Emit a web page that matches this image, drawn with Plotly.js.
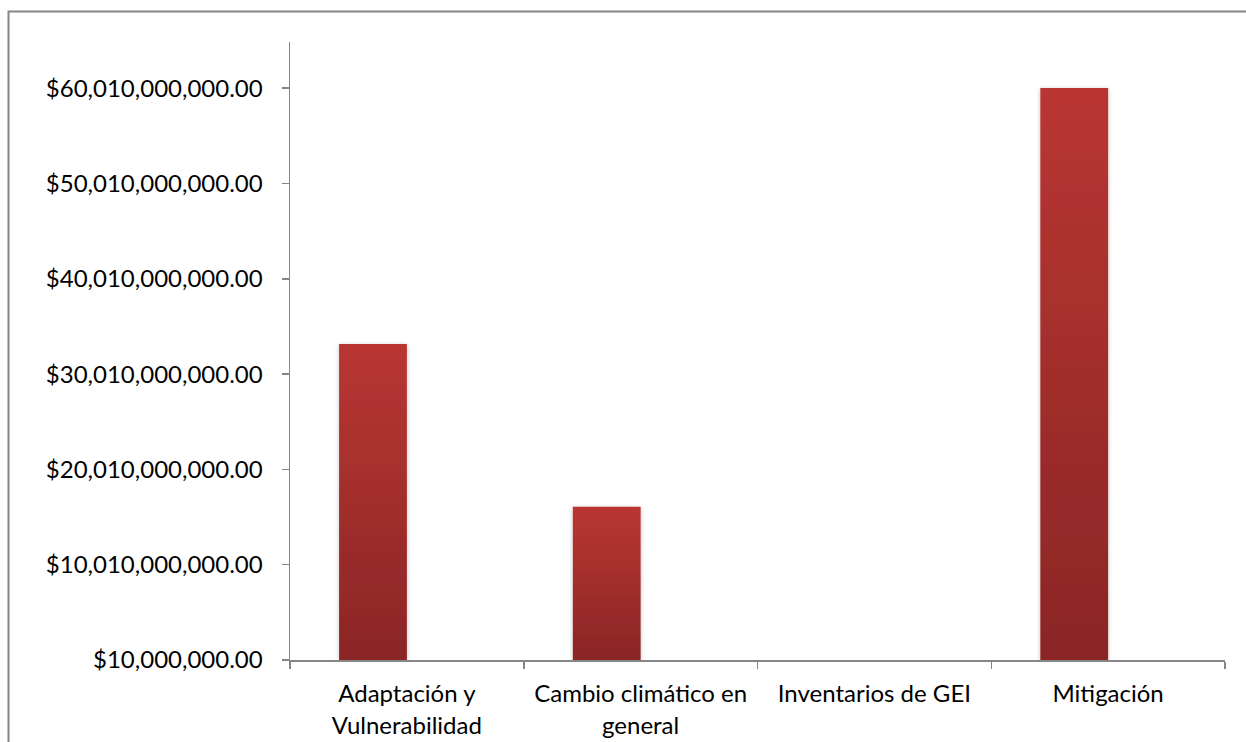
<!DOCTYPE html>
<html>
<head>
<meta charset="utf-8">
<script src="https://cdn.plot.ly/plotly-3.0.1.min.js"></script>
<style>
html,body{margin:0;padding:0;background:#fff;}
#chart{width:1246px;height:742px;}
</style>
</head>
<body>
<div id="chart"></div>
<script>
// Data
const categories = ["Adaptación y<br>Vulnerabilidad", "Cambio climático en<br>general", "Inventarios de GEI", "Mitigación"];
const amounts = [33160000000, 16100000000, 20000000, 60020000000];
const tickValues = [10000000, 10010000000, 20010000000, 30010000000, 40010000000, 50010000000, 60010000000];

const W = 1246, H = 742;
const M = {l: 290, r: 21, t: 42, b: 82};
const pw = W - M.l - M.r, ph = H - M.t - M.b;
const px = v => (v - M.l) / pw;
const py = v => 1 - (v - M.t) / ph;

const trace = {
  type: 'bar',
  x: categories,
  y: amounts,
  width: 0.29,
  offset: -0.29,
  marker: {color: '#a32e2b', line: {width: 0}},
  hoverinfo: 'x+y',
  cliponaxis: false
};

const axisColor = '#868686';
const layout = {
  width: W, height: H,
  margin: M,
  paper_bgcolor: '#ffffff',
  plot_bgcolor: '#ffffff',
  showlegend: false,
  font: {family: 'Lato, "Open Sans", sans-serif', size: 24, color: '#000'},
  xaxis: {
    type: 'category',
    tickson: 'boundaries',
    ticks: 'outside', ticklen: 7, tickcolor: axisColor, tickwidth: 1.5,
    showline: true, linecolor: axisColor, linewidth: 1.5,
    showgrid: false, zeroline: false,
    tickfont: {size: 24},
    ticklabelstandoff: 12,
    fixedrange: true
  },
  yaxis: {
    range: [10000000, 64860000000],
    tickvals: tickValues,
    tickformat: '$,.2f',
    ticks: 'outside', ticklen: 7, tickcolor: axisColor, tickwidth: 1.5,
    showline: true, linecolor: axisColor, linewidth: 1.5,
    showgrid: false, zeroline: false,
    tickfont: {size: 24},
    ticklabelstandoff: 14,
    fixedrange: true
  },
  shapes: [{
    type: 'rect', xref: 'paper', yref: 'paper',
    x0: px(8.5), x1: px(1300), y0: py(800), y1: py(11.5),
    line: {color: axisColor, width: 2}, fillcolor: 'rgba(0,0,0,0)', layer: 'below'
  }]
};

Plotly.newPlot('chart', [trace], layout, {displayModeBar: false, staticPlot: true}).then(function(gd){
  // vertical gradient on bars (lighter at top, darker at bottom)
  const svg = gd.querySelector('svg.main-svg');
  const ns = 'http://www.w3.org/2000/svg';
  let defs = svg.querySelector('defs');
  if (!defs) { defs = document.createElementNS(ns, 'defs'); svg.insertBefore(defs, svg.firstChild); }
  const grad = document.createElementNS(ns, 'linearGradient');
  grad.setAttribute('id', 'barGrad');
  grad.setAttribute('x1', '0'); grad.setAttribute('y1', '0');
  grad.setAttribute('x2', '0'); grad.setAttribute('y2', '1');
  [['0%', '#b93632'], ['100%', '#8a2626']].forEach(function(s){
    const st = document.createElementNS(ns, 'stop');
    st.setAttribute('offset', s[0]); st.setAttribute('stop-color', s[1]);
    grad.appendChild(st);
  });
  const filt = document.createElementNS(ns, 'filter');
  filt.setAttribute('id', 'barShadow');
  filt.setAttribute('x', '-20%'); filt.setAttribute('y', '-5%');
  filt.setAttribute('width', '140%'); filt.setAttribute('height', '110%');
  const ds = document.createElementNS(ns, 'feDropShadow');
  ds.setAttribute('dx', '0'); ds.setAttribute('dy', '1');
  ds.setAttribute('stdDeviation', '2'); ds.setAttribute('flood-color', '#000');
  ds.setAttribute('flood-opacity', '0.25');
  filt.appendChild(ds);
  defs.appendChild(grad);
  defs.appendChild(filt);
  gd.querySelectorAll('.barlayer .point path').forEach(function(p){
    p.style.fill = 'url(#barGrad)';
    p.setAttribute('filter', 'url(#barShadow)');
  });
});
</script>
</body>
</html>
